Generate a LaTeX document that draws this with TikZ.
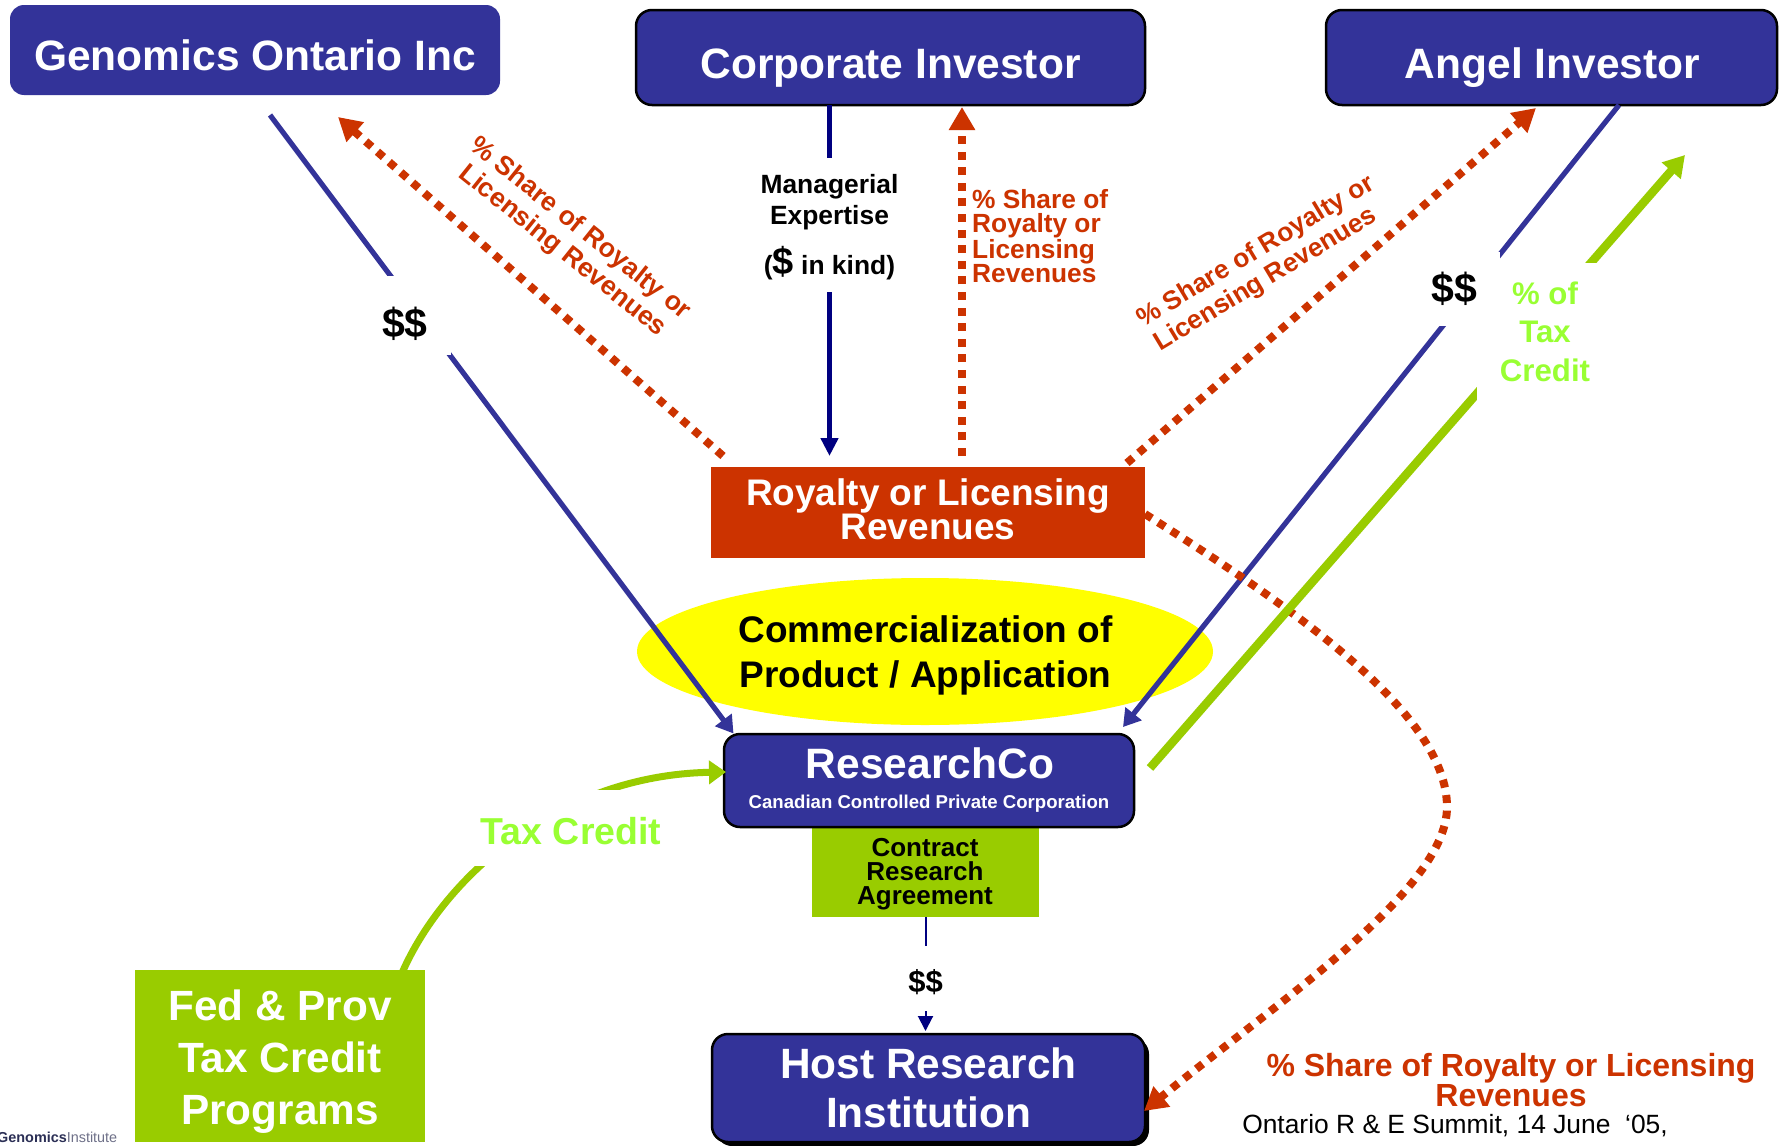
\documentclass[tikz,border=0pt]{standalone}
\usepackage{fontspec}
\setmainfont{Liberation Sans}
\usetikzlibrary{arrows.meta,shapes.geometric,shadows}
\definecolor{dkblue}{HTML}{333399}
\definecolor{navyb}{HTML}{000080}
\definecolor{rust}{HTML}{CC3300}
\definecolor{olive}{HTML}{99CC00}
\definecolor{lime}{HTML}{99FF33}
\definecolor{ovalyellow}{HTML}{FFFF00}
\definecolor{logoblue}{HTML}{2B2F55}
\definecolor{logogrey}{HTML}{6E7088}
\newcommand{\fsz}[2]{\fontsize{#1}{#2}\selectfont\bfseries}
\tikzset{
  x=1pt,y=-1pt,
  boxbase/.style={inner sep=0pt,align=center,text=white},
  bluebox/.style={boxbase,fill=dkblue,draw=black,line width=2.5pt,rounded corners=16pt},
  redbox/.style={boxbase,fill=rust},
  olivebox/.style={boxbase,fill=olive},
  plaintext/.style={inner sep=0pt,align=center},
  mask/.style={fill=white,inner xsep=0pt,inner ysep=0pt,align=center},
  blueline/.style={draw=dkblue,line width=5.2pt,-{Triangle[length=17pt,width=20pt]}},
  navyline/.style={draw=navyb,line width=5.5pt,-{Triangle[length=18pt,width=17pt]}},
  greenline/.style={draw=olive,line width=8.5pt,-{Triangle[length=21pt,width=24pt]}},
  reddots/.style={draw=rust,line width=8pt,dash pattern=on 8pt off 7.6pt,-{Triangle[length=23pt,width=25pt]}},
  redtext/.style={text=rust,inner sep=0pt},
}
\begin{document}
\begin{tikzpicture}
\path[fill=white,use as bounding box] (0,0) rectangle (1781,1146);

% ellipse
\node[ellipse,fill=ovalyellow,inner sep=0pt,minimum width=576pt,minimum height=147pt] (comm) at (925,651.5) {};
\node[plaintext,font=\fsz{37}{44.3}] (commt) at (925.5,655.5) {Commercialization of\\Product / Application};

% boxes
\node[boxbase,fill=dkblue,rounded corners=14pt,minimum width=490pt,text height=65.7pt,text depth=24.3pt,font=\fsz{42.5}{50}] (geno) at (255,50) {Genomics Ontario Inc};
\node[bluebox,minimum width=509pt,text height=68.5pt,text depth=26.5pt,font=\fsz{42.5}{50}] (corp) at (890.5,57.5) {Corporate Investor};
\node[bluebox,minimum width=451pt,text height=68.5pt,text depth=26.5pt,font=\fsz{42.5}{50}] (angel) at (1551.5,57.5) {\hspace*{2pt}Angel Investor};
\node[redbox,minimum width=434pt,minimum height=91pt] (roy) at (928,512.5) {};
\node[plaintext,text=white,font=\fsz{37}{33}] (royt) at (928,509.5) {Royalty or Licensing\\Revenues};
\node[olivebox,minimum width=227pt,minimum height=89pt] (contract) at (925.5,872.5) {};
\node[plaintext,font=\fsz{26}{24}] (contractt) at (925,874.5) {Contract\\Research\\Agreement};
\node[bluebox,minimum width=410pt,minimum height=93pt] (rco) at (929,780.5) {};
\node[text=white,inner sep=0pt,font=\fsz{42.5}{50}] (rcot) at (930,763) {ResearchCo};
\node[text=white,inner sep=0pt,font=\fsz{18.6}{22}] (rcos) at (929,804) {Canadian Controlled Private Corporation};
\node[bluebox,font=\fsz{42.4}{49},minimum width=433pt,minimum height=108pt,
      drop shadow={shadow xshift=4pt,shadow yshift=-4pt,fill=black,opacity=1}] (host) at (928.5,1088) {Host Research\\Institution};
\node[olivebox,minimum width=290pt,minimum height=172pt] (fed) at (280,1056) {};
\node[plaintext,text=white,font=\fsz{42.3}{52}] (fedt) at (280,1062) {Fed \& Prov\\Tax Credit\\Programs};

% named free ends
\coordinate (g1) at (270,115);
\coordinate (g2) at (733.5,733.5);
\coordinate (a1) at (1619,105);
\coordinate (a2) at (1123,727);
\coordinate (c1) at (829.5,105);
\coordinate (c2) at (829.5,456);
\coordinate (rg1) at (723,456);
\coordinate (rg2) at (338,117);
\coordinate (rc1) at (962,456);
\coordinate (rc2) at (962,107);
\coordinate (ra1) at (1127,463);
\coordinate (ra2) at (1536,108);
\coordinate (rh1) at (1145,514);
\coordinate (rhm) at (1447,807);
\coordinate (rh2) at (1144,1111);
\coordinate (gr1) at (1150,768);
\coordinate (gr2) at (1685,155);
\coordinate (tc1) at (402,973);
\coordinate (tc2) at (726,772);
\coordinate (h2) at (925.5,1031);

% connectors
\draw[blueline] (g1) -- (g2);
\draw[blueline] (a1) -- (a2);
\draw[navyline] (c1) -- (c2);
\draw[reddots] (rg1) -- (rg2);
\draw[reddots] (rc1) -- (rc2);
\draw[reddots] (ra1) -- (ra2);
\draw[reddots] (rh1) .. controls (1300,612) and (1447,715) .. (rhm)
                     .. controls (1447,890) and (1280,1000) .. (rh2);
\draw[greenline] (gr1) -- (gr2);
\draw[draw=olive,line width=7pt,-{Triangle[length=17pt,width=23pt]}] (tc1) .. controls (445,875) and (560,775) .. (tc2);
\draw[draw=navyb,line width=2pt,-{Triangle[length=15pt,width=15pt]}] (contract.south) -- (h2);

% masked labels
\node[mask,minimum width=92pt,text height=61pt,text depth=18pt,font=\fsz{41}{41}] (d1) at (405,315.5) {\$\$};
\node[mask,minimum width=92pt,minimum height=74pt,font=\fsz{41}{41}] (d2) at (1454,289) {\$\$};
\node[mask,text=lime,minimum width=136pt,minimum height=137pt,font=\fsz{31.2}{38.5}] (pct) at (1545,331.5) {\% of\\Tax\\Credit};
\node[mask,text=lime,minimum width=200pt,text height=54pt,text depth=22pt,font=\fsz{37.5}{37}] (tcl) at (571,828) {Tax Credit};
\node[mask,minimum width=60pt,text height=46pt,text depth=19pt,font=\fsz{31}{31}] (d3) at (925.5,978.5) {\$\$};
\node[mask,minimum width=160pt,minimum height=134pt] (mgrm) at (829.5,225) {};
\node[plaintext,font=\fsz{26.4}{31.5}] (mgr) at (829.5,227)
  {Managerial\\Expertise\\[18pt](\smash{\fontsize{38}{38}\selectfont\$} in kind)};

% red texts
\node[redtext,rotate=-38.7,align=center,font=\fsz{26.6}{28.5}] (t1) at (571,240) {\% Share of Royalty or\\Licensing Revenues};
\node[redtext,align=left,anchor=west,font=\fsz{26.3}{24.2}] (t2) at (972,236) {\% Share of\\Royalty or\\Licensing\\Revenues};
\node[redtext,rotate=31,align=center,font=\fsz{26.3}{29}] (t3) at (1261,266) {\hspace*{6pt}\% Share of Royalty or\\Licensing Revenues\hspace*{6pt}};
\node[redtext,align=center,font=\fsz{32}{29.5}] (t4) at (1511,1080) {\% Share of Royalty or Licensing\\Revenues};
\node[inner sep=0pt,font=\fontsize{26.4}{30}\selectfont] (t5) at (1455,1126) {Ontario R \& E Summit, 14 June\ \ ‘05,};

% logo
\node[inner sep=0pt,anchor=west,font=\fontsize{14.4}{16}\selectfont] (logo) at (-3,1137)
  {\textcolor{logoblue}{\bfseries Genomics}\textcolor{logogrey}{Institute}};
\end{tikzpicture}
\end{document}
